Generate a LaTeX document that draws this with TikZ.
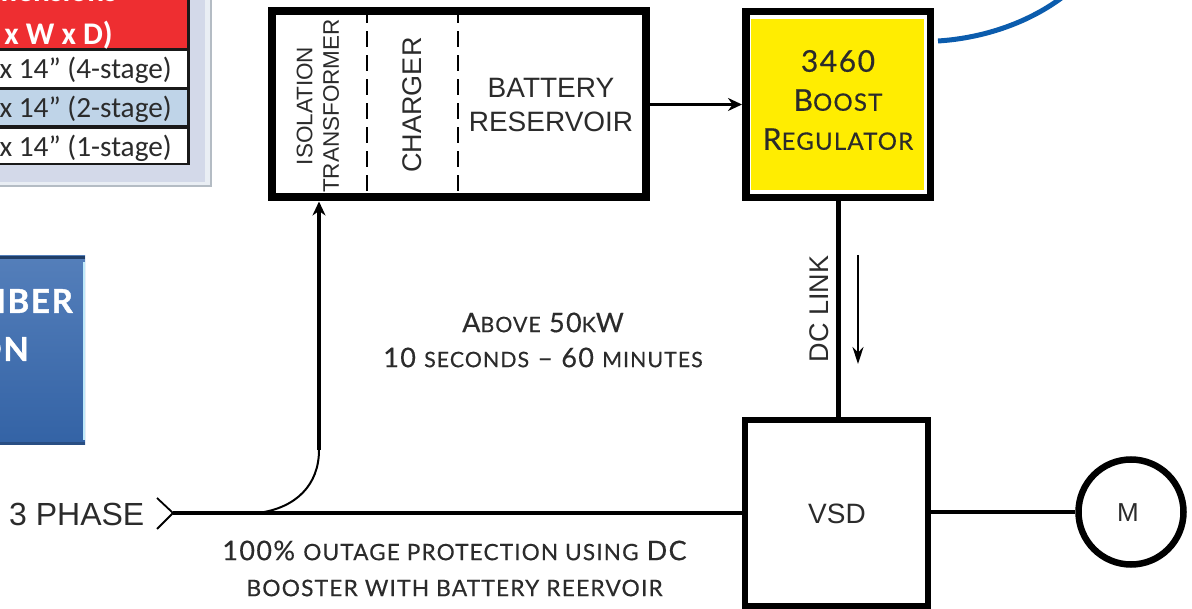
\documentclass[tikz,border=0pt]{standalone}
\usepackage{fontspec}
\usepackage{tikz}
\usetikzlibrary{positioning}
\usetikzlibrary{arrows.meta}

\setmainfont{Liberation Sans}
\newfontfamily\din[LetterSpace=5,FakeBold=0.4]{Lato}
\newfontfamily\dinheavy[LetterSpace=5,FakeBold=1.2]{Lato Bold}
\newfontfamily\tablefont{Carlito}
\newcommand{\fsz}[1]{\fontsize{#1}{#1}\selectfont}
\newcommand{\low}[2][21.3]{{\fsz{#1}#2}}

\definecolor{panel}{HTML}{D3D9E9}
\definecolor{panellight}{HTML}{E9EEF4}
\definecolor{paneledge}{HTML}{B4BCC4}
\definecolor{headred}{HTML}{EE2E31}
\definecolor{rowblue}{HTML}{BFD4E8}
\definecolor{bannerblue}{HTML}{3668AE}
\definecolor{linkblue}{HTML}{0B5CAD}
\definecolor{inktext}{HTML}{2B2B2B}

\tikzset{
    block/.style={draw=black, rectangle, inner sep=0pt},
    wire/.style={draw=black, line width=3.5pt},
    tip/.style={-{Stealth[length=14pt,width=13pt]}},
    drawn/.style={font=\fsz{27}, text=inktext, inner sep=0pt, align=center},
    caption/.style={font=\din\fsz{27}, text=inktext, inner sep=0pt, align=center},
    row/.style={font=\tablefont\fsz{29.3}, text=inktext, inner sep=0pt, anchor=east},
    cell/.style={rectangle, inner sep=0pt, minimum width=187pt, anchor=north west},
}

\begin{document}
\begin{tikzpicture}[x=1pt,y=-1pt]
    \useasboundingbox (0,0) rectangle (1192,609);
    \clip (0,0) rectangle (1192,609);

    \fill[paneledge] (0,0) rectangle (212,187);
    \fill[panellight] (0,0) rectangle (210,185);
    \fill[panel] (0,0) rectangle (205,182);
    \fill[black!90] (0,0) rectangle (190,165);

    \node(head) [cell, fill=headred, minimum height=48pt] at (0,0) {};
    \node(rowfour) [cell, fill=white, minimum height=36pt] at (0,51) {};
    \node(rowtwo) [cell, fill=rowblue, minimum height=35pt] at (0,90) {};
    \node(rowone) [cell, fill=white, minimum height=34pt] at (0,129) {};

    \node(headtop) [font=\tablefont\bfseries\fsz{31.5}, text=white, inner sep=0pt, anchor=east] at (117,-9) {mensions};
    \node(headlow) [font=\tablefont\bfseries\fsz{31.5}, text=white, inner sep=0pt, anchor=east] at (113,35) {x W x D)};
    \node(textfour) [row] at (172,70) {x 14” (4-stage)};
    \node(texttwo) [row] at (172,109) {x 14” (2-stage)};
    \node(textone) [row] at (172,148) {x 14” (1-stage)};

    \shade[top color=bannerblue!85!white, bottom color=bannerblue!95!black] (0,256) rectangle (85,445);
    \fill[bannerblue!60!black] (0,256) rectangle (85,259);
    \fill[bannerblue!75!black] (0,442) rectangle (85,445);
    \fill[cyan!25!white] (83,262) rectangle (85,440);
    \node(bannertop) [font=\dinheavy\fsz{33}, text=white, inner sep=0pt, anchor=east] at (73,301) {MBER};
    \node(bannerlow) [font=\dinheavy\fsz{33}, text=white, inner sep=0pt, anchor=east] at (29,349) {ON};

    \node(store) [block, line width=8pt, minimum width=374pt, minimum height=186pt] at (459,104.5) {};
    \node(boost) [block, line width=7.5pt, minimum width=184.5pt, minimum height=186pt, right=92pt of store] {};
    \node(vsd) [block, line width=6pt, minimum width=183pt, minimum height=186pt] at (836.5,513) {};
    \node(motor) [draw=black, circle, line width=6.5pt, minimum size=105pt, inner sep=0pt] at (1131,512) {};

    \fill[yellow!95!orange] (751,19) rectangle (924,190);

    \draw[black, line width=2pt, dash pattern=on 16pt off 8pt] (366.5,0 |- store.north) -- (366.5,0 |- store.south);
    \draw[black, line width=2pt, dash pattern=on 16pt off 8pt] (458,0 |- store.north) -- (458,0 |- store.south);

    \node(isolation) [drawn, rotate=90, font=\fsz{22.5}] at (318,106) {ISOLATION\\[4pt]TRANSFORMER};
    \node(charger) [drawn, rotate=90] at (412,105) {CHARGER};
    \node(battery) [drawn, font=\fsz{28}] at (551,105) {BATTERY\\[6pt]RESERVOIR};
    \node(regname) [caption, font=\din\fsz{30}] at (838,100) {3460\\[9pt]B\low[24]{OOST}\\[9pt]R\low[24]{EGULATOR}};
    \node(dclink) [drawn, rotate=90] at (819,309) {DC LINK};
    \node(vsdname) [drawn, font=\fsz{28}] at (837,514) {VSD};
    \node(motorname) [drawn, font=\fsz{26}] at (1128,513) {M};
    \node(phase) [drawn, font=\fsz{32}, anchor=west] at (9,514) {3 PHASE};
    \node(above) [caption] at (543,340) {A\low{BOVE} 50\low{K}W\\[8pt]10 \low{SECONDS} – 60 \low{MINUTES}};
    \node(outage) [caption] at (454.5,568.5) {100\% \low[22.6]{OUTAGE PROTECTION USING} DC\\[9pt]\low[22.8]{BOOSTER WITH BATTERY REERVOIR}};

    \coordinate(chevtop) at (157,498);
    \coordinate(chevtip) at (173,513);
    \coordinate(chevbot) at (157,529);
    \coordinate(tap) at (258,513);
    \coordinate(bend) at (319,450);
    \coordinate(flowtop) at (858,255);
    \coordinate(flowend) at (858,364);
    \coordinate(linkstart) at (938,41);
    \coordinate(linkend) at (1064,-4);

    \draw[black, line width=1.8pt] (chevtop) -- (chevtip) -- (chevbot);
    \draw[wire] (chevtip) -- (chevtip -| vsd.west);
    \draw[black, line width=2pt] (tap) .. controls (296,508) and (319,485) .. (bend);
    \draw[wire, tip] (bend) -- (bend |- store.south);
    \draw[wire, tip] (store.east) -- (boost.west);
    \draw[black, line width=5pt] (boost.south) -- (boost.south |- vsd.north);
    \draw[black, line width=1.5pt, -{Stealth[length=17pt,width=11pt]}] (flowtop) -- (flowend);
    \draw[wire] (vsd.east |- motor.west) -- (motor.west);
    \draw[linkblue, line width=5pt] (linkstart) .. controls (985,38) and (1030,22) .. (linkend);
\end{tikzpicture}
\end{document}
